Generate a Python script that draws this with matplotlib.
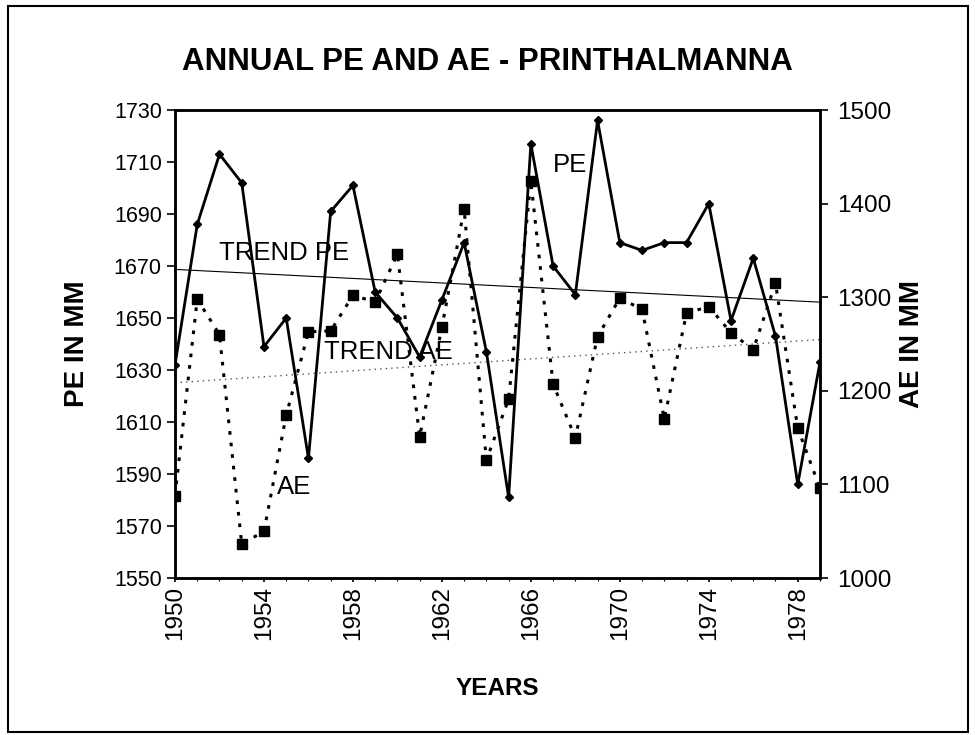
import numpy as np
import matplotlib
matplotlib.use("Agg")
import matplotlib.pyplot as plt
from matplotlib.patches import Rectangle

plt.rcParams['font.family'] = ['Liberation Sans', 'DejaVu Sans']

# Data
years = np.arange(1950, 1980)
pe = [1632, 1686, 1713, 1702, 1639, 1650, 1596, 1691, 1701, 1660,
      1650, 1635, 1657, 1679, 1637, 1581, 1717, 1670, 1659, 1726,
      1679, 1676, 1679, 1679, 1694, 1649, 1673, 1643, 1586, 1633]
ae = [1088, 1298, 1260, 1036, 1050, 1174, 1263, 1264, 1302, 1295,
      1346, 1151, 1268, 1394, 1126, 1191, 1424, 1207, 1150, 1258,
      1299, 1287, 1170, 1283, 1290, 1262, 1244, 1315, 1160, 1096]
pe_ticks = list(range(1550, 1731, 20))
ae_ticks = list(range(1000, 1501, 100))
year_ticks = list(range(1950, 1980, 4))

# linear trends (as Excel draws them)
pe_fit = np.polyfit(years, pe, 1)
ae_fit = np.polyfit(years, ae, 1)

fig = plt.figure(figsize=(9.75, 7.35), dpi=100)
ax = fig.add_axes([0.1795, 0.2136, 0.6615, 0.6367])
ax2 = ax.twinx()

ax.plot(years, np.polyval(pe_fit, years), color='black', lw=0.8)
ax.plot(years, pe, color='black', lw=2, marker='D', ms=4.5)
ax2.plot(years, np.polyval(ae_fit, years), color='#555555', lw=1,
         linestyle=(0, (1, 3)))
ax2.plot(years, ae, color='black', lw=2.2, linestyle=(0, (1.2, 2.6)),
         marker='s', ms=7.5)

ax.set_xlim(1950, 1979)
ax.set_ylim(1550, 1730)
ax2.set_ylim(1000, 1500)
ax.set_yticks(pe_ticks)
ax2.set_yticks(ae_ticks)
ax.set_xticks(year_ticks)
ax.set_xticks(years, minor=True)
ax.set_xticklabels([str(y) for y in year_ticks], rotation=90)

for a in (ax, ax2):
    for s in a.spines.values():
        s.set_linewidth(1.8)
    a.tick_params(labelsize=15.5, width=1.2, length=6, direction='out')
ax2.tick_params(labelsize=17.5, pad=6)
ax.tick_params(axis='x', labelsize=17.5, length=3, pad=3)
ax.tick_params(axis='x', which='minor', length=2, width=0.8)

ax.set_ylabel("PE IN MM", fontsize=20, fontweight='bold', labelpad=17)
ax2.set_ylabel("AE IN MM", fontsize=20, fontweight='bold', labelpad=6,
               rotation=90)
ax.set_xlabel("YEARS", fontsize=17.5, fontweight='bold', labelpad=26)
fig.text(0.5, 0.9156, "ANNUAL PE AND AE - PRINTHALMANNA", ha='center',
         va='center', fontsize=22.5, fontweight='bold')

# inline labels
ax.text(1952.0, 1675, "TREND PE", fontsize=18.5, va='center')
ax.text(1956.7, 1637, "TREND AE", fontsize=18.5, va='center')
ax.text(1967.0, 1709, "PE", fontsize=18.5, va='center')
ax.text(1954.6, 1585, "AE", fontsize=18.5, va='center')

# outer frame
fig.patches.append(Rectangle((0.008, 0.004), 0.985, 0.988, transform=fig.transFigure,
                             fill=False, edgecolor='black', lw=1.5))

fig.savefig("out.png", dpi=100)
